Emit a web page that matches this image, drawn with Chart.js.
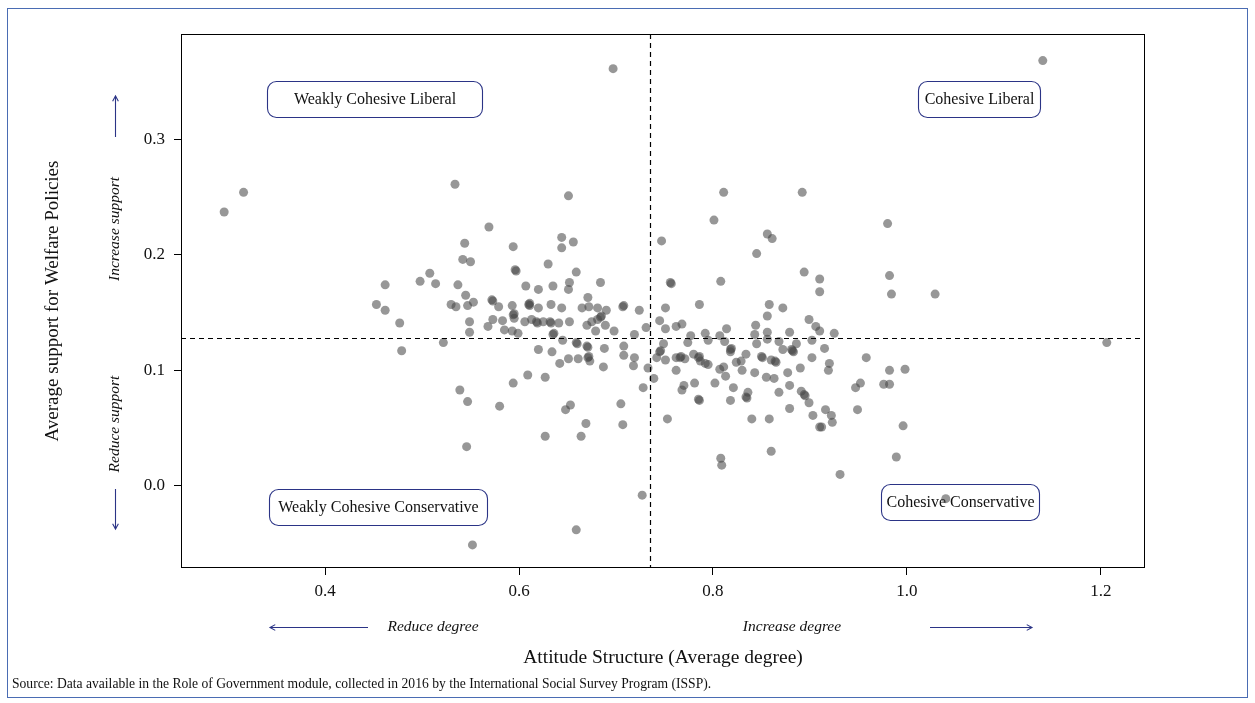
<!DOCTYPE html>
<html><head><meta charset="utf-8">
<script src="https://cdn.jsdelivr.net/npm/chart.js@4.4.1/dist/chart.umd.min.js"></script>
<style>html,body{margin:0;padding:0;background:#fff;}canvas{display:block;}</style>
</head><body>
<canvas id="c" width="1255" height="703"></canvas>
<script>
// Attitude structure (average degree) per observation
const attitudeDegree = [
0.296,0.316,0.534,0.569,0.544,0.594,0.542,0.550,0.596,0.508,0.498,0.514,0.462,0.537,0.545,0.572,0.553,0.453,0.462,0.530,0.535,0.547,0.579,0.593,
0.477,0.549,0.573,0.583,0.568,0.594,0.595,0.549,0.585,0.593,0.599,0.522,0.479,0.594,0.539,0.547,0.580,
0.651,0.644,0.656,0.644,0.747,0.630,0.659,0.652,0.651,0.684,0.607,0.620,0.635,0.671,0.756,0.610,0.611,0.620,0.633,0.644,0.665,0.672,0.681,0.690,0.707,0.724,0.751,
0.606,0.613,0.618,0.625,0.632,0.641,0.652,0.670,0.675,0.681,0.684,0.689,0.679,0.698,0.635,0.645,0.659,0.670,0.688,0.708,0.719,0.731,0.745,0.751,0.749,0.745,0.742,0.751,0.620,0.634,0.651,0.661,0.671,0.673,0.642,0.687,0.708,0.719,0.718,0.733,0.739,0.728,0.609,0.627,0.653,0.648,0.705,0.669,0.707,0.627,0.664,0.753,
0.811,0.892,0.801,0.856,0.861,0.845,0.894,0.910,0.910,0.757,0.808,0.786,0.858,0.872,
0.856,0.762,0.768,0.777,0.792,0.807,0.814,0.844,0.843,0.856,0.879,0.899,0.906,0.910,0.774,0.795,0.812,0.845,0.856,0.868,0.872,0.881,0.883,0.886,0.902,0.762,0.766,0.771,0.780,0.785,0.787,0.792,0.795,0.818,0.818,0.834,0.850,0.860,0.864,0.829,0.824,0.807,0.811,0.830,0.762,0.843,0.855,0.863,0.877,0.890,0.902,0.813,0.781,0.802,0.770,0.768,0.821,0.836,0.834,0.868,0.879,0.891,0.894,0.899,0.785,0.818,0.879,0.903,0.840,0.858,0.910,
0.980,0.982,0.984,1.029,
0.925,0.915,0.920,0.919,0.958,0.982,0.998,0.952,0.947,0.976,0.982,0.916,0.949,0.922,0.923,0.912,0.996,
0.546,0.808,0.809,0.860,0.989,0.931,0.727,1.040,0.659,0.552,0.697,1.140,1.206,
0.597,0.573,0.595,0.611,0.708,0.619,0.633,0.685,0.636,0.660,0.671,0.746,0.672,0.882,0.767,0.786,0.819,0.851,0.865,0.835,0.895,0.786
];
// Average support for welfare policies, same order
const welfareSupport = [
0.237,0.254,0.261,0.224,0.210,0.207,0.196,0.194,0.187,0.184,0.177,0.175,0.174,0.174,0.165,0.161,0.159,0.157,0.152,0.157,0.155,0.156,0.155,0.156,
0.141,0.142,0.144,0.143,0.138,0.148,0.145,0.133,0.135,0.134,0.132,0.124,0.117,0.089,0.083,0.073,0.069,
0.251,0.215,0.211,0.206,0.212,0.192,0.185,0.176,0.170,0.176,0.173,0.170,0.173,0.163,0.176,0.157,0.156,0.154,0.157,0.154,0.154,0.155,0.154,0.152,0.155,0.152,0.154,
0.142,0.144,0.142,0.142,0.142,0.141,0.142,0.139,0.142,0.144,0.146,0.139,0.134,0.134,0.131,0.126,0.124,0.121,0.119,0.121,0.131,0.137,0.143,0.136,0.123,0.116,0.111,0.109,0.118,0.116,0.110,0.110,0.111,0.108,0.106,0.103,0.113,0.111,0.104,0.102,0.093,0.085,0.096,0.094,0.070,0.066,0.071,0.054,0.053,0.043,0.043,0.058,
0.254,0.254,0.230,0.218,0.214,0.201,0.185,0.179,0.168,0.175,0.177,0.157,0.157,0.154,
0.147,0.138,0.140,0.130,0.132,0.130,0.136,0.139,0.131,0.133,0.133,0.144,0.138,0.134,0.124,0.126,0.125,0.123,0.127,0.125,0.118,0.118,0.116,0.123,0.126,0.111,0.111,0.110,0.114,0.111,0.108,0.106,0.105,0.118,0.116,0.114,0.112,0.109,0.108,0.108,0.107,0.101,0.103,0.100,0.100,0.098,0.094,0.093,0.098,0.102,0.111,0.095,0.089,0.089,0.087,0.083,0.085,0.081,0.077,0.081,0.087,0.082,0.079,0.072,0.075,0.074,0.067,0.061,0.058,0.058,0.051,
0.227,0.182,0.166,0.166,
0.132,0.119,0.106,0.100,0.111,0.100,0.101,0.089,0.085,0.088,0.088,0.066,0.066,0.061,0.055,0.051,0.052,
0.034,0.024,0.018,0.030,0.025,0.010,-0.008,-0.011,-0.038,-0.051,0.361,0.368,0.124,
0.186,0.160,0.149,0.158,0.156,0.141,0.141,0.147,0.132,0.123,0.120,0.117,0.112,0.117,0.112,0.112,0.119,0.111,0.107,0.076,0.078,0.074
];
const xTickValues = [0.4, 0.6, 0.8, 1.0, 1.2];
const yTickValues = [0.0, 0.1, 0.2, 0.3];
const meanDegree = 0.735;
const meanSupport = 0.128;
const xTitle = 'Attitude Structure (Average degree)';
const yTitle = 'Average support for Welfare Policies';
const quadrantLabels = ['Weakly Cohesive Liberal', 'Cohesive Liberal', 'Weakly Cohesive Conservative', 'Cohesive Conservative'];
const sourceNote = 'Source: Data available in the Role of Government module, collected in 2016 by the International Social Survey Program (ISSP).';

const SERIF = '"Liberation Serif", "Times New Roman", serif';
const NAVY = '#2b3486';

function roundRect(ctx, x, y, w, h, r) {
  ctx.beginPath();
  ctx.moveTo(x + r, y);
  ctx.lineTo(x + w - r, y);
  ctx.arcTo(x + w, y, x + w, y + r, r);
  ctx.lineTo(x + w, y + h - r);
  ctx.arcTo(x + w, y + h, x + w - r, y + h, r);
  ctx.lineTo(x + r, y + h);
  ctx.arcTo(x, y + h, x, y + h - r, r);
  ctx.lineTo(x, y + r);
  ctx.arcTo(x, y, x + r, y, r);
  ctx.closePath();
}
function arrow(ctx, x1, y1, x2, y2) {
  ctx.save();
  ctx.strokeStyle = NAVY; ctx.lineWidth = 1.1;
  ctx.beginPath(); ctx.moveTo(x1, y1); ctx.lineTo(x2, y2); ctx.stroke();
  const a = Math.atan2(y2 - y1, x2 - x1), L = 6;
  ctx.beginPath();
  ctx.moveTo(x2 - L * Math.cos(a - 0.5), y2 - L * Math.sin(a - 0.5));
  ctx.lineTo(x2, y2);
  ctx.lineTo(x2 - L * Math.cos(a + 0.5), y2 - L * Math.sin(a + 0.5));
  ctx.stroke();
  ctx.restore();
}

const deco = {
  id: 'deco',
  beforeDatasetsDraw(chart) {
    const ctx = chart.ctx;
    const boxes = [
      [267, 81, 215, 36, quadrantLabels[0]],
      [918, 81, 122, 36, quadrantLabels[1]],
      [269, 489, 218, 36, quadrantLabels[2]],
      [881, 484, 158, 36, quadrantLabels[3]]
    ];
    ctx.save();
    boxes.forEach(b => {
      roundRect(ctx, b[0] + 0.5, b[1] + 0.5, b[2], b[3], 9);
      ctx.fillStyle = '#fff'; ctx.fill();
      ctx.strokeStyle = NAVY; ctx.lineWidth = 1.1; ctx.stroke();
      ctx.fillStyle = '#111'; ctx.font = '16px ' + SERIF;
      ctx.textAlign = 'center'; ctx.textBaseline = 'middle';
      ctx.fillText(b[4], b[0] + b[2] / 2 + 0.5, b[1] + b[3] / 2 + 1);
    });
    ctx.restore();
  },
  afterDatasetsDraw(chart) {
    const ctx = chart.ctx, a = chart.chartArea;
    const xs = chart.scales.x, ys = chart.scales.y;
    ctx.save();
    ctx.strokeStyle = '#000'; ctx.lineWidth = 1.2; ctx.setLineDash([5, 4]);
    const px = Math.round(xs.getPixelForValue(meanDegree)) + 0.5;
    const py = Math.round(ys.getPixelForValue(meanSupport)) + 0.5;
    ctx.beginPath(); ctx.moveTo(px, a.top); ctx.lineTo(px, a.bottom); ctx.stroke();
    ctx.beginPath(); ctx.moveTo(a.left, py); ctx.lineTo(a.right, py); ctx.stroke();
    ctx.setLineDash([]);
    ctx.lineWidth = 1;
    ctx.strokeRect(a.left + 0.5, a.top + 0.5, a.right - a.left - 1, a.bottom - a.top - 1);
    ctx.restore();
  },
  afterDraw(chart) {
    const ctx = chart.ctx;
    ctx.save();
    ctx.fillStyle = '#111';
    ctx.font = 'italic 15.5px ' + SERIF;
    ctx.textAlign = 'center'; ctx.textBaseline = 'middle';
    ctx.save(); ctx.translate(115, 229); ctx.rotate(-Math.PI / 2); ctx.fillText('Increase support', 0, 0); ctx.restore();
    ctx.save(); ctx.translate(115, 424); ctx.rotate(-Math.PI / 2); ctx.fillText('Reduce support', 0, 0); ctx.restore();
    arrow(ctx, 115.5, 137, 115.5, 96);
    arrow(ctx, 115.5, 489, 115.5, 529);
    ctx.fillText('Reduce degree', 433, 627);
    ctx.fillText('Increase degree', 792, 627);
    arrow(ctx, 368, 627.5, 270, 627.5);
    arrow(ctx, 930, 627.5, 1032, 627.5);
    ctx.font = '13.6px ' + SERIF; ctx.textAlign = 'left';
    ctx.fillText(sourceNote, 12, 684);
    ctx.strokeStyle = '#4a6cb3'; ctx.lineWidth = 1;
    ctx.strokeRect(7.5, 8.5, 1240, 689);
    ctx.restore();
  }
};

const points = attitudeDegree.map((x, i) => ({ x: x, y: welfareSupport[i] }));

new Chart(document.getElementById('c'), {
  type: 'scatter',
  data: { datasets: [{
    data: points,
    backgroundColor: 'rgba(70,70,70,0.56)',
    borderWidth: 0,
    pointRadius: 4.5,
    pointHoverRadius: 4.5
  }] },
  options: {
    responsive: false,
    animation: false,
    events: [],
    layout: { padding: { top: 34, right: 110, left: 0, bottom: 0 } },
    plugins: { legend: { display: false }, tooltip: { enabled: false } },
    scales: {
      x: {
        type: 'linear', min: 0.2515, max: 1.2454,
        afterBuildTicks: s => { s.ticks = xTickValues.map(v => ({ value: v })); },
        afterFit: s => { s.height = 135; },
        border: { display: false },
        grid: { drawOnChartArea: false, drawTicks: true, tickLength: 7, color: '#000', lineWidth: 1 },
        ticks: { color: '#111', font: { family: SERIF, size: 17 }, padding: 6, maxRotation: 0, autoSkip: false,
          callback: v => Number(v).toFixed(1) },
        title: { display: true, text: xTitle, color: '#111', font: { family: SERIF, size: 19.5 }, padding: { top: 0, bottom: 33 } }
      },
      y: {
        type: 'linear', min: -0.071, max: 0.391,
        afterBuildTicks: s => { s.ticks = yTickValues.map(v => ({ value: v })); },
        afterFit: s => { s.width = 181; },
        border: { display: false },
        grid: { drawOnChartArea: false, drawTicks: true, tickLength: 7, color: '#000', lineWidth: 1 },
        ticks: { color: '#111', font: { family: SERIF, size: 17 }, padding: 9, autoSkip: false,
          callback: v => Number(v).toFixed(1) },
        title: { display: true, text: yTitle, color: '#111', font: { family: SERIF, size: 19 }, padding: { top: 42, bottom: 0 } }
      }
    }
  },
  plugins: [deco]
});
</script>
</body></html>
